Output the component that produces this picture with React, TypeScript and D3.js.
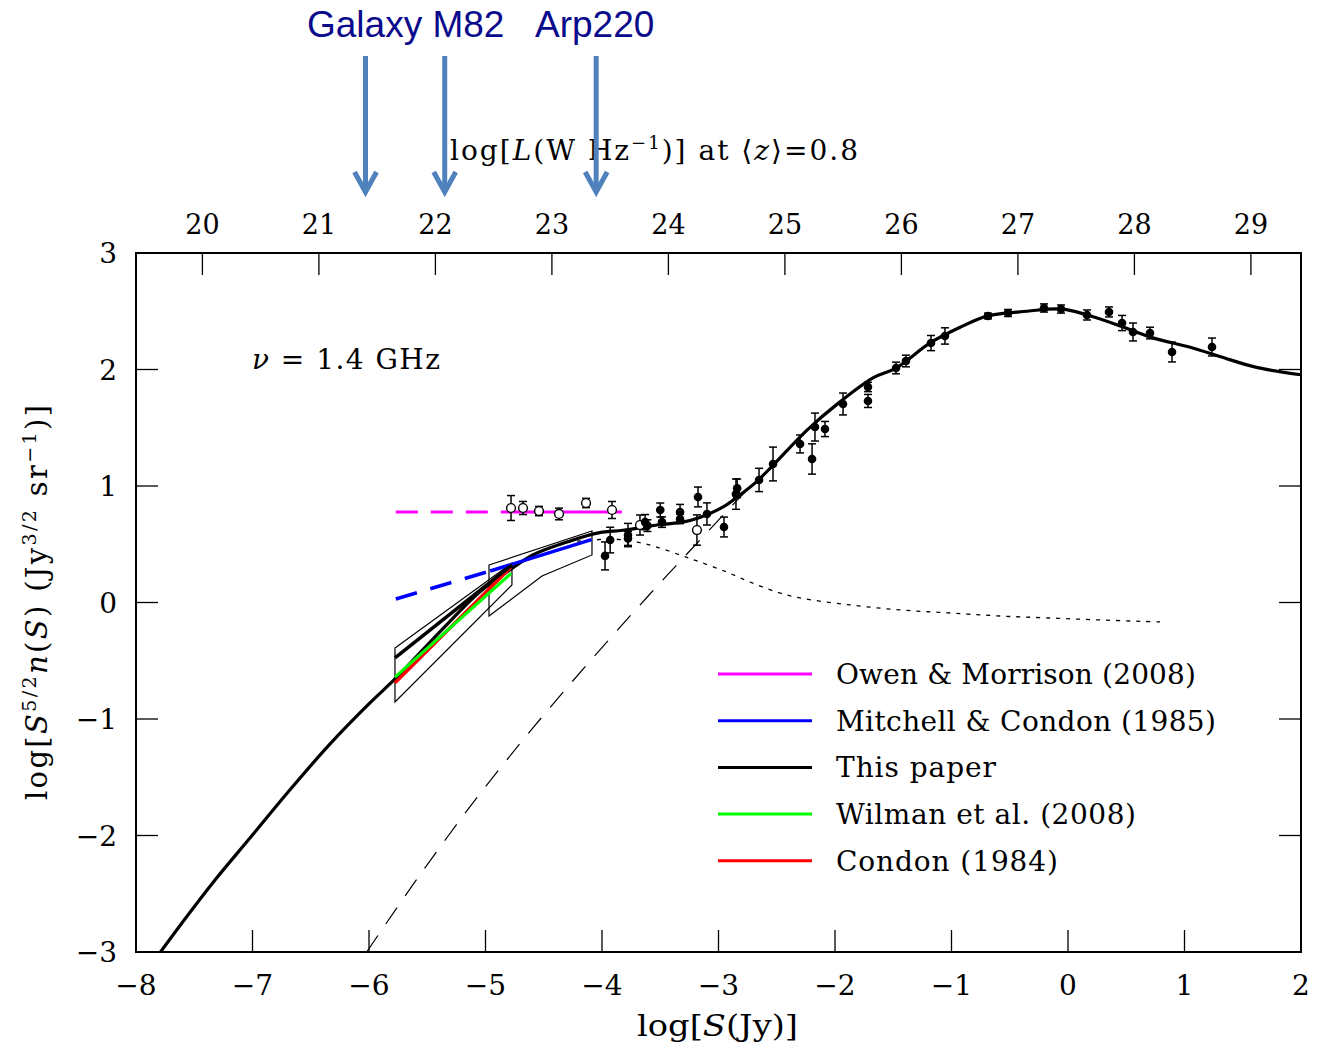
import React from 'react';
import * as d3 from 'd3';

const W = 1319;
const H = 1049;

// Axis ticks
const xTicks = [-8, -7, -6, -5, -4, -3, -2, -1, 0, 1, 2];
const yTicks = [-3, -2, -1, 0, 1, 2, 3];
const lTicks = [20, 21, 22, 23, 24, 25, 26, 27, 28, 29];
const lOffset = 27.43; // log L = log S + offset at <z>=0.8

// "This paper" model curve
const mainX = [-7.79, -7.62, -7.32, -7.02, -6.68, -6.34, -5.99, -5.77, -5.39, -5.05, -4.79, -4.59, -4.30, -4.02, -3.82, -3.53, -3.31, -3.16, -2.96, -2.82, -2.67, -2.53, -2.24, -1.96, -1.67, -1.48, -1.18, -0.93, -0.69, -0.35, -0.06, 0.16, 0.46, 0.70, 1.07, 1.31, 1.61, 2.0];
const mainY = [-3.0, -2.77, -2.38, -2.02, -1.61, -1.22, -0.86, -0.65, -0.25, 0.09, 0.28, 0.41, 0.52, 0.60, 0.62, 0.665, 0.69, 0.73, 0.82, 0.92, 1.04, 1.18, 1.48, 1.72, 1.93, 2.01, 2.23, 2.36, 2.46, 2.50, 2.52, 2.47, 2.37, 2.28, 2.185, 2.11, 2.02, 1.955];

// star-forming (dotted) component
const sfX = [-4.30, -4.08, -3.91, -3.70, -3.53, -3.33, -3.16, -2.93, -2.73, -2.50, -2.30, -1.87, -1.44, -1.01, -0.58, -0.16, 0.28, 0.79];
const sfY = [0.52, 0.536, 0.545, 0.519, 0.476, 0.408, 0.348, 0.262, 0.176, 0.09, 0.039, -0.021, -0.064, -0.09, -0.116, -0.133, -0.15, -0.167];

// AGN (long dashed) component
const agnX = [-6.02, -5.6, -5.1, -4.6, -4.1, -3.6, -3.1, -2.75, -2.5];
const agnY = [-3.0, -2.39, -1.71, -1.085, -0.50, 0.06, 0.60, 0.97, 1.21];

// Filled points: x, y, error
const filledX = [-3.974, -3.93, -3.777, -3.777, -3.63, -3.61, -3.50, -3.485, -3.33, -3.33, -3.176, -3.099, -2.953, -2.85, -2.84, -2.652, -2.532, -2.30, -2.197, -2.172, -2.086, -1.931, -1.717, -1.717, -1.476, -1.391, -1.176, -1.056, -0.687, -0.515, -0.206, -0.06, 0.163, 0.352, 0.464, 0.558, 0.704, 0.893, 1.236];
const filledY = [0.40, 0.536, 0.579, 0.55, 0.69, 0.66, 0.794, 0.69, 0.777, 0.717, 0.906, 0.76, 0.648, 0.93, 0.98, 1.052, 1.189, 1.361, 1.232, 1.506, 1.489, 1.704, 1.73, 1.85, 2.013, 2.073, 2.227, 2.288, 2.459, 2.485, 2.528, 2.519, 2.468, 2.494, 2.399, 2.322, 2.313, 2.15, 2.193];
const filledErr = [0.12, 0.11, 0.10, 0.06, 0.065, 0.05, 0.06, 0.045, 0.065, 0.04, 0.085, 0.095, 0.085, 0.13, 0.08, 0.10, 0.145, 0.077, 0.13, 0.12, 0.065, 0.094, 0.056, 0.04, 0.05, 0.05, 0.065, 0.07, 0.025, 0.03, 0.035, 0.035, 0.043, 0.043, 0.065, 0.077, 0.05, 0.085, 0.077];

// Open points
const openX = [-4.781, -4.678, -4.541, -4.369, -4.137, -3.914, -3.674, -3.185];
const openY = [0.811, 0.811, 0.785, 0.76, 0.854, 0.794, 0.665, 0.622];
const openErr = [0.107, 0.056, 0.04, 0.05, 0.04, 0.073, 0.086, 0.13];

// Owen & Morrison (2008)
const owenDashX = [-5.77, -4.85];
const owenSolidX = [-4.85, -3.83];
const owenY = 0.777;

// Mitchell & Condon (1985)
const mitDashX = [-5.77, -4.96];
const mitDashY = [0.03, 0.27];
const mitSolidX = [-4.96, -4.09];
const mitSolidY = [0.27, 0.54];

// This paper (P(D) fit), Wilman, Condon 1984
const thisX = [-5.777, -4.773];
const thisY = [-0.476, 0.322];
const wilX = [-5.777, -4.78];
const wilY = [-0.64, 0.25];
const conX = [-5.777, -4.785];
const conY = [-0.69, 0.30];

// Uncertainty boxes
const box1X = [-5.777, -4.773, -4.773, -5.777];
const box1Y = [-0.391, 0.339, 0.15, -0.854];
const box2X = [-4.97, -4.086, -4.086, -4.515, -4.97];
const box2Y = [0.322, 0.614, 0.408, 0.227, -0.116];

// Legend
const legendLabels = ['Owen & Morrison (2008)', 'Mitchell & Condon (1985)', 'This paper', 'Wilman et al. (2008)', 'Condon (1984)'];
const legendColors = ['#ff00ff', '#0000ff', '#000000', '#00ff00', '#ff0000'];
const legendWidths = [360, 380, 160, 300, 222];

// Annotations
const galaxyNames = ['Galaxy', 'M82', 'Arp220'];
const galaxyL = [21.4, 22.08, 23.38];

const SERIF = '"DejaVu Serif", "Liberation Serif", serif';
const fmt = (v: number) => (v < 0 ? '\u2212' + Math.abs(v) : String(v));

export default function App() {
  const x = d3.scaleLinear().domain([-8, 2]).range([136, 1301]);
  const y = d3.scaleLinear().domain([-3, 3]).range([952, 253]);
  const xL = (l: number) => x(l - lOffset);
  const [x0, x1] = x.range();
  const [y0, y1] = [y(-3), y(3)];

  const lineSmooth = d3.line<[number, number]>().x(d => x(d[0])).y(d => y(d[1])).curve(d3.curveCatmullRom.alpha(0.5));
  const lineStraight = d3.line<[number, number]>().x(d => x(d[0])).y(d => y(d[1]));
  const zip = (a: number[], b: number[]) => a.map((v, i) => [v, b[i]] as [number, number]);

  const tickLen = 22;

  return (
    <svg width={W} height={H} style={{ position: 'absolute', left: 0, top: 0, background: '#fff' }}>
      <defs>
        <clipPath id="plotclip">
          <rect x={x0} y={y1} width={x1 - x0} height={y0 - y1} />
        </clipPath>
      </defs>
      <rect x={0} y={0} width={W} height={H} fill="#fff" />

      {/* frame */}
      <rect x={x0} y={y1} width={x1 - x0} height={y0 - y1} fill="none" stroke="#000" strokeWidth={2} />

      {/* bottom ticks + labels */}
      {xTicks.map(t => (
        <g key={'xb' + t}>
          <line x1={x(t)} x2={x(t)} y1={y0} y2={y0 - tickLen} stroke="#000" strokeWidth={1.3} />
          <text x={x(t)} y={995} fontFamily={SERIF} fontSize={28} textAnchor="middle">{fmt(t)}</text>
        </g>
      ))}
      {/* top ticks (L) */}
      {lTicks.map(t => (
        <g key={'xt' + t}>
          <line x1={xL(t)} x2={xL(t)} y1={y1} y2={y1 + tickLen} stroke="#000" strokeWidth={1.3} />
          <text x={xL(t)} y={234} fontFamily={SERIF} fontSize={27} textAnchor="middle">{t}</text>
        </g>
      ))}
      {/* left / right ticks */}
      {yTicks.map(t => (
        <g key={'y' + t}>
          <line x1={x0} x2={x0 + tickLen} y1={y(t)} y2={y(t)} stroke="#000" strokeWidth={1.3} />
          <line x1={x1} x2={x1 - tickLen} y1={y(t)} y2={y(t)} stroke="#000" strokeWidth={1.3} />
          <text x={117} y={y(t) + 10} fontFamily={SERIF} fontSize={28} textAnchor="end">{fmt(t)}</text>
        </g>
      ))}

      {/* axis titles */}
      <text x={637} y={1036} fontFamily={SERIF} fontSize={30} textLength={161} lengthAdjust="spacingAndGlyphs">
        log[<tspan fontStyle="italic">S</tspan>(Jy)]
      </text>
      <text transform="translate(47,800) rotate(-90)" fontFamily={SERIF} fontSize={29} textLength={395} lengthAdjust="spacing">
        log[<tspan fontStyle="italic">S</tspan><tspan fontSize={19} dy={-11}>5/2</tspan><tspan fontStyle="italic" dy={11}>n</tspan>(<tspan fontStyle="italic">S</tspan>) (Jy<tspan fontSize={19} dy={-11}>3/2</tspan><tspan dy={11}> sr</tspan><tspan fontSize={19} dy={-11}>{'\u22121'}</tspan><tspan dy={11}>)]</tspan>
      </text>
      <text x={450} y={160} fontFamily={SERIF} fontSize={28} textLength={408} lengthAdjust="spacing">
        log[<tspan fontStyle="italic">L</tspan>(W Hz<tspan fontSize={18} dy={-11}>{'\u22121'}</tspan><tspan dy={11}>)] at </tspan>{'\u27E8'}<tspan fontStyle="italic">z</tspan>{'\u27E9=0.8'}
      </text>

      <text x={252} y={369} fontFamily={SERIF} fontSize={28} textLength={188} lengthAdjust="spacing">
        <tspan fontStyle="italic">{'\u03BD'}</tspan>{' = 1.4 GHz'}
      </text>

      <g clipPath="url(#plotclip)">
        {/* boxes */}
        <path d={lineStraight(zip(box1X, box1Y)) + 'Z'} fill="none" stroke="#000" strokeWidth={1.2} />
        <path d={lineStraight(zip(box2X, box2Y)) + 'Z'} fill="none" stroke="#000" strokeWidth={1.2} />

        {/* components */}
        <path d={lineSmooth(zip(agnX, agnY)) || ''} fill="none" stroke="#000" strokeWidth={1.2} strokeDasharray="20,14" />
        <path d={lineSmooth(zip(sfX, sfY)) || ''} fill="none" stroke="#000" strokeWidth={1.3} strokeDasharray="4,6" />

        {/* main curve */}
        <path d={lineSmooth(zip(mainX, mainY)) || ''} fill="none" stroke="#000" strokeWidth={3.2} />

        {/* Owen & Morrison */}
        <path d={lineStraight(owenDashX.map(v => [v, owenY] as [number, number])) || ''} fill="none" stroke="#ff00ff" strokeWidth={3} strokeDasharray="22,13" />
        <path d={lineStraight(owenSolidX.map(v => [v, owenY] as [number, number])) || ''} fill="none" stroke="#ff00ff" strokeWidth={3} />

        {/* Mitchell & Condon */}
        <path d={lineStraight(zip(mitDashX, mitDashY)) || ''} fill="none" stroke="#0000ff" strokeWidth={3.5} strokeDasharray="22,14" />
        <path d={lineStraight(zip(mitSolidX, mitSolidY)) || ''} fill="none" stroke="#0000ff" strokeWidth={3.5} />

        {/* Condon 1984, Wilman, This paper */}
        <path d={lineStraight(zip(conX, conY)) || ''} fill="none" stroke="#ff0000" strokeWidth={3.5} />
        <path d={lineStraight(zip(wilX, wilY)) || ''} fill="none" stroke="#00ff00" strokeWidth={3} />
        <path d={lineStraight(zip(thisX, thisY)) || ''} fill="none" stroke="#000" strokeWidth={3.5} />

        {/* open points */}
        {openX.map((vx, i) => (
          <g key={'o' + i}>
            <line x1={x(vx)} x2={x(vx)} y1={y(openY[i] - openErr[i])} y2={y(openY[i] + openErr[i])} stroke="#000" strokeWidth={1.5} />
            <line x1={x(vx) - 4} x2={x(vx) + 4} y1={y(openY[i] - openErr[i])} y2={y(openY[i] - openErr[i])} stroke="#000" strokeWidth={1.5} />
            <line x1={x(vx) - 4} x2={x(vx) + 4} y1={y(openY[i] + openErr[i])} y2={y(openY[i] + openErr[i])} stroke="#000" strokeWidth={1.5} />
            <circle cx={x(vx)} cy={y(openY[i])} r={4.4} fill="#fff" stroke="#000" strokeWidth={1.4} />
          </g>
        ))}
        {/* filled points */}
        {filledX.map((vx, i) => (
          <g key={'f' + i}>
            <line x1={x(vx)} x2={x(vx)} y1={y(filledY[i] - filledErr[i])} y2={y(filledY[i] + filledErr[i])} stroke="#000" strokeWidth={1.5} />
            <line x1={x(vx) - 4} x2={x(vx) + 4} y1={y(filledY[i] - filledErr[i])} y2={y(filledY[i] - filledErr[i])} stroke="#000" strokeWidth={1.5} />
            <line x1={x(vx) - 4} x2={x(vx) + 4} y1={y(filledY[i] + filledErr[i])} y2={y(filledY[i] + filledErr[i])} stroke="#000" strokeWidth={1.5} />
            <circle cx={x(vx)} cy={y(filledY[i])} r={4.3} fill="#000" />
          </g>
        ))}
      </g>

      {/* legend */}
      {legendLabels.map((lab, i) => (
        <g key={'lg' + i}>
          <line x1={718} x2={812} y1={674 + i * 46.7} y2={674 + i * 46.7} stroke={legendColors[i]} strokeWidth={3} />
          <text x={836} y={684 + i * 46.7} fontFamily={SERIF} fontSize={28} textLength={legendWidths[i]} lengthAdjust="spacing">{lab}</text>
        </g>
      ))}

      {/* galaxy annotations */}
      <text x={307} y={37} fontFamily='"Liberation Sans", Arial, sans-serif' fontSize={37} fill="#0a0a8c">{galaxyNames[0] + ' ' + galaxyNames[1]}</text>
      <text x={535} y={37} fontFamily='"Liberation Sans", Arial, sans-serif' fontSize={37} fill="#0a0a8c">{galaxyNames[2]}</text>
      {galaxyL.map((l, i) => {
        const ax = xL(l);
        return (
          <g key={'ar' + i} stroke="#4f81bd" strokeWidth={5} fill="none">
            <line x1={ax} x2={ax} y1={56} y2={192} />
            <polyline points={`${ax - 11},${172} ${ax},${192} ${ax + 11},${172}`} strokeLinejoin="miter" />
          </g>
        );
      })}
    </svg>
  );
}
